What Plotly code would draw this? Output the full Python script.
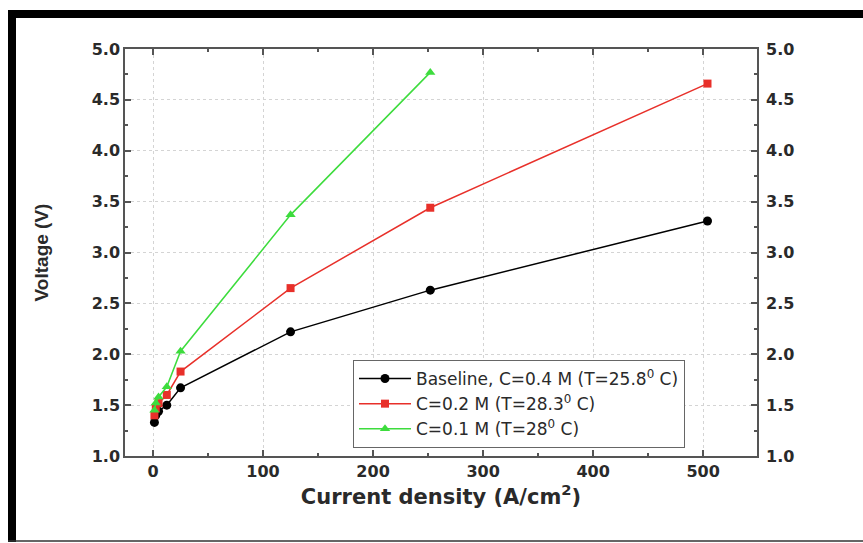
import plotly.graph_objects as go

# Data
current_baseline = [1.25, 2.5, 5, 12.5, 25, 125, 252, 504]
voltage_baseline = [1.33, 1.40, 1.44, 1.50, 1.67, 2.22, 2.63, 3.31]
current_c02 = [1.25, 2.5, 5, 12.5, 25, 125, 252, 504]
voltage_c02 = [1.40, 1.47, 1.52, 1.60, 1.83, 2.65, 3.44, 4.66]
current_c01 = [1.25, 2.5, 5, 12.5, 25, 125, 252]
voltage_c01 = [1.45, 1.52, 1.58, 1.68, 2.03, 3.37, 4.77]

names = ["Baseline, C=0.4 M (T=25.8<sup>0</sup> C)",
         "C=0.2 M (T=28.3<sup>0</sup> C)",
         "C=0.1 M (T=28<sup>0</sup> C)"]
x_ticks = [0, 100, 200, 300, 400, 500]
y_ticks = [1.0, 1.5, 2.0, 2.5, 3.0, 3.5, 4.0, 4.5, 5.0]

W, H = 863, 543
L, R, T, B = 125, 757, 49, 456

fig = go.Figure()
fig.add_trace(go.Scatter(x=current_baseline, y=voltage_baseline, name=names[0],
                         mode="lines+markers", line=dict(color="black", width=1.5),
                         marker=dict(symbol="circle", size=9, color="black")))
fig.add_trace(go.Scatter(x=current_c02, y=voltage_c02, name=names[1],
                         mode="lines+markers", line=dict(color="#e8302a", width=1.5),
                         marker=dict(symbol="square", size=8, color="#e8302a")))
fig.add_trace(go.Scatter(x=current_c01, y=voltage_c01, name=names[2],
                         mode="lines+markers", line=dict(color="#3ddc3d", width=1.5),
                         marker=dict(symbol="triangle-up", size=9, color="#3ddc3d")))
# transparent copy on the right axis so that its labels are drawn
fig.add_trace(go.Scatter(x=current_baseline, y=voltage_baseline, yaxis="y2", mode="markers",
                         marker=dict(opacity=0), showlegend=False, hoverinfo="skip"))

tickfont = dict(family="DejaVu Sans", size=16, color="#2a2a2a", weight="bold")
axis_common = dict(
    showline=True, linecolor="#555555", linewidth=1.5,
    ticks="inside", ticklen=6, tickwidth=1.5, tickcolor="#555555",
    showgrid=True, gridcolor="#d4d4d4", griddash="dot", gridwidth=1,
    zeroline=False, tickfont=tickfont,
)

fig.update_layout(
    width=W, height=H,
    margin=dict(l=L, r=W - R, t=T, b=H - B),
    paper_bgcolor="white", plot_bgcolor="white",
    showlegend=True,
    legend=dict(x=(353 - L) / (R - L), y=(B - 360) / (B - T), xanchor="left", yanchor="top",
                bordercolor="#666666", borderwidth=1, bgcolor="white",
                font=dict(family="DejaVu Sans", size=17, color="#2a2a2a"),
                itemwidth=52, tracegroupgap=0),
    xaxis=dict(range=[-25.5, 549], tickvals=x_ticks, mirror="ticks",
               minor=dict(ticks="inside", ticklen=3, tickwidth=1.5, tickcolor="#555555", dtick=50, showgrid=False),
               title=dict(text="Current density (A/cm<sup>2</sup>)",
                          font=dict(family="DejaVu Sans", size=21, color="#2a2a2a", weight="bold"), standoff=8),
               **axis_common),
    yaxis=dict(range=[1.0, 5.0], tickvals=y_ticks, tickformat=".1f", mirror="ticks",
               minor=dict(ticks="inside", ticklen=3, tickwidth=1.5, tickcolor="#555555", dtick=0.25, showgrid=False),
               title=dict(text="Voltage (V)",
                          font=dict(family="Liberation Sans", size=19, color="#2a2a2a", weight="bold"), standoff=38),
               **axis_common),
    yaxis2=dict(range=[1.0, 5.0], tickvals=y_ticks, tickformat=".1f", overlaying="y", side="right",
                anchor="x", showline=False, showgrid=False, zeroline=False,
                ticks="", tickfont=tickfont, ticklabelstandoff=8),
)

def px(xp):
    return (xp - L) / (R - L)

def py(yp):
    return (B - yp) / (B - T)

# Outer frame (black bands)
fig.add_shape(type="rect", xref="paper", yref="paper", x0=px(8), x1=px(870), y0=py(10), y1=py(18),
              fillcolor="black", line=dict(width=0), layer="above")
fig.add_shape(type="rect", xref="paper", yref="paper", x0=px(8), x1=px(16), y0=py(10), y1=py(542),
              fillcolor="black", line=dict(width=0), layer="above")
fig.add_shape(type="line", xref="paper", yref="paper", x0=px(8), x1=px(870), y0=py(541), y1=py(541),
              line=dict(color="#333333", width=1.5), layer="above")

fig.write_html("out.html")
